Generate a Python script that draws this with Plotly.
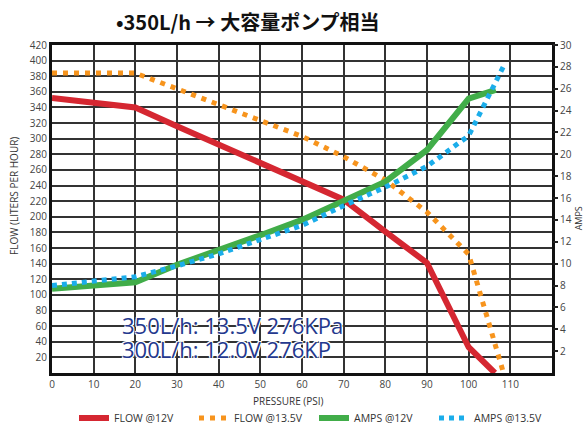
import plotly.graph_objects as go

# Data
flow12_x = [0, 20, 30, 40, 50, 60, 70, 80, 90, 100, 106.3]
flow12_y = [352, 340, 316, 292, 268, 246, 222, 181, 141, 33, 0]

flow135_x = [0, 20, 30, 40, 50, 60, 70, 80, 90, 100, 108.2]
flow135_y = [384, 384, 364, 344, 324, 303, 277, 247, 206, 152, 3]

amps12_x = [0, 20, 30, 40, 50, 60, 70, 80, 90, 100, 106.5]
amps12_y = [7.7, 8.3, 9.9, 11.2, 12.6, 14.0, 15.7, 17.5, 20.4, 25.1, 25.9]

amps135_x = [0, 20, 30, 40, 50, 60, 70, 80, 90, 100, 108.3]
amps135_y = [8.0, 8.8, 9.8, 10.9, 12.2, 13.5, 15.3, 17.0, 18.9, 21.7, 28.0]

x_ticks = list(range(0, 120, 10))
y_ticks = list(range(20, 440, 20))
y2_ticks = list(range(2, 32, 2))

title_text = "•350L/h → 大容量ポンプ相当"
note_lines = ["350L/h: 13.5V 276KPa", "300L/h: 12.0V 276KP"]

font_main = "Open Sans, DejaVu Sans, sans-serif"

fig = go.Figure()
fig.add_trace(go.Scatter(x=flow12_x, y=flow12_y, mode="lines", name="FLOW @12V",
                         line=dict(color="#d52731", width=6)))
fig.add_trace(go.Scatter(x=flow135_x, y=flow135_y, mode="lines", name="FLOW @13.5V",
                         line=dict(color="#f7941d", width=5, dash="5px,6px")))
fig.add_trace(go.Scatter(x=amps12_x, y=amps12_y, mode="lines", name="AMPS @12V", yaxis="y2",
                         line=dict(color="#41ad49", width=6)))
fig.add_trace(go.Scatter(x=amps135_x, y=amps135_y, mode="lines", name="AMPS @13.5V", yaxis="y2",
                         line=dict(color="#1badea", width=5, dash="5px,5px")))

fig.update_layout(
    width=585, height=426,
    margin=dict(l=52, r=33, t=45, b=53, autoexpand=False),
    paper_bgcolor="white", plot_bgcolor="white",
    font=dict(family=font_main, size=10, color="#333"),
    showlegend=True,
    legend=dict(orientation="h", x=0.044, xanchor="left", y=-0.137, yanchor="middle",
                entrywidth=75, entrywidthmode="pixels",
                font=dict(size=10.5, color="#333"), bgcolor="rgba(0,0,0,0)"),
    xaxis=dict(range=[0, 120], tickvals=x_ticks, showgrid=True, gridcolor="#333",
               gridwidth=1.6, zeroline=False, showline=True, linecolor="#111",
               linewidth=3, mirror=True, ticks="", tickfont=dict(size=10, color="#444")),
    yaxis=dict(range=[0, 420], tickvals=y_ticks, showgrid=True, gridcolor="#333",
               gridwidth=1.6, zeroline=False, showline=True, linecolor="#111",
               linewidth=3, mirror=True, ticks="", tickfont=dict(size=10, color="#444")),
    yaxis2=dict(range=[0, 30], tickvals=y2_ticks, overlaying="y", side="right",
                showgrid=False, zeroline=False, showline=False, ticks="outside",
                ticklen=5, tickwidth=2, tickcolor="#222",
                tickfont=dict(size=10, color="#444")),
)

halo = "1px 1px 0 #fff, -1px -1px 0 #fff, 1px -1px 0 #fff, -1px 1px 0 #fff"
annotations = [
    dict(text=title_text, x=0.392, y=1.073, xref="paper", yref="paper",
         showarrow=False, xanchor="center", yanchor="middle",
         font=dict(family="Noto Sans CJK JP", size=20, color="#111", weight="bold")),
    dict(text="FLOW (LITERS PER HOUR)", x=-0.076, y=0.54, xref="paper", yref="paper",
         showarrow=False, textangle=-90, xanchor="center", yanchor="middle",
         font=dict(size=10, color="#333")),
    dict(text="AMPS", x=1.053, y=0.47, xref="paper", yref="paper",
         showarrow=False, textangle=-90, xanchor="center", yanchor="middle",
         font=dict(size=9, color="#333")),
    dict(text="PRESSURE (PSI)", x=0.472, y=-0.085, xref="paper", yref="paper",
         showarrow=False, xanchor="center", yanchor="middle",
         font=dict(size=10, color="#333")),
]
for i, line in enumerate(note_lines):
    annotations.append(dict(text=line, x=0.136, y=0.146 - i * 0.072, xref="paper", yref="paper",
                            showarrow=False, xanchor="left", yanchor="middle",
                            font=dict(family=font_main, size=22, color="#24388e",
                                      shadow=halo)))
fig.update_layout(annotations=annotations)

fig.write_html("out.html", config={"displayModeBar": False},
               post_script="document.body.style.margin='0';document.body.style.overflow='hidden';")
